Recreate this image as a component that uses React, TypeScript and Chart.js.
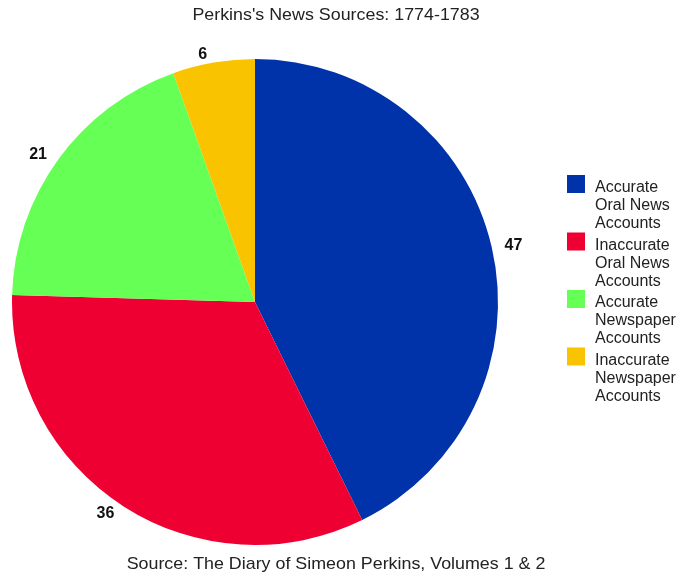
import React, { useEffect, useRef } from "react";
import { Chart, registerables } from "chart.js";

Chart.register(...registerables);

const chartTitle = "Perkins's News Sources: 1774-1783";
const sourceNote = "Source: The Diary of Simeon Perkins, Volumes 1 & 2";
const categories = [
  ["Accurate", "Oral News", "Accounts"],
  ["Inaccurate", "Oral News", "Accounts"],
  ["Accurate", "Newspaper", "Accounts"],
  ["Inaccurate", "Newspaper", "Accounts"],
];
const values = [47, 36, 21, 6];
const colors = ["#0033aa", "#ee0033", "#66ff55", "#fac300"];

const FONT = "Arial, 'Liberation Sans', sans-serif";

function stretchedText(ctx: CanvasRenderingContext2D, text: string, x: number, y: number, sx: number) {
  ctx.save();
  ctx.translate(x, y);
  ctx.scale(sx, 1);
  ctx.fillText(text, 0, 0);
  ctx.restore();
}

const overlayPlugin = {
  id: "overlay",
  afterDraw(chart: any) {
    const ctx = chart.ctx as CanvasRenderingContext2D;
    ctx.save();
    ctx.fillStyle = "#222";
    ctx.font = `17px ${FONT}`;
    ctx.textAlign = "center";
    ctx.textBaseline = "middle";
    stretchedText(ctx, chartTitle, 336, 15, 1.05);
    stretchedText(ctx, sourceNote, 336, 564, 1.05);

    // value labels outside slices
    const meta = chart.getDatasetMeta(0);
    ctx.font = `bold 16px ${FONT}`;
    ctx.fillStyle = "#111";
    meta.data.forEach((arc: any, i: number) => {
      const p = arc.getProps(["x", "y", "startAngle", "endAngle", "outerRadius"], true);
      const mid = (p.startAngle + p.endAngle) / 2;
      const r = p.outerRadius + 8;
      const ax = p.x + Math.cos(mid) * r;
      const ay = p.y + Math.sin(mid) * r;
      const txt = String(values[i]);
      const w = ctx.measureText(txt).width + 10;
      const cx = ax + Math.sign(Math.cos(mid)) * w / 2;
      ctx.fillText(txt, cx, ay);
    });

    // legend
    ctx.textAlign = "left";
    ctx.font = `16px ${FONT}`;
    categories.forEach((lines, i) => {
      const top = 175 + i * 57.5;
      ctx.fillStyle = colors[i];
      ctx.fillRect(567, top, 18, 18);
      ctx.fillStyle = "#222";
      lines.forEach((ln, j) => {
        ctx.fillText(ln, 595, top + 13 + j * 18);
      });
    });
    ctx.restore();
  },
};

export default function App() {
  const ref = useRef<HTMLCanvasElement | null>(null);
  useEffect(() => {
    if (!ref.current) return;
    const chart = new Chart(ref.current, {
      type: "pie",
      data: {
        labels: categories.map((c) => c.join(" ")),
        datasets: [
          {
            data: values,
            backgroundColor: colors,
            borderWidth: 0,
          },
        ],
      },
      options: {
        animation: false,
        responsive: false,
        layout: { padding: { left: 12, right: 183, top: 59, bottom: 35 } },
        plugins: {
          legend: { display: false },
          tooltip: { enabled: false },
          title: { display: false },
        },
      },
      plugins: [overlayPlugin],
    });
    return () => chart.destroy();
  }, []);
  return (
    <div style={{ position: "fixed", left: 0, top: 0, width: 681, height: 580, background: "#fff" }}>
      <canvas ref={ref} width={681} height={580} style={{ width: 681, height: 580 }} />
    </div>
  );
}
